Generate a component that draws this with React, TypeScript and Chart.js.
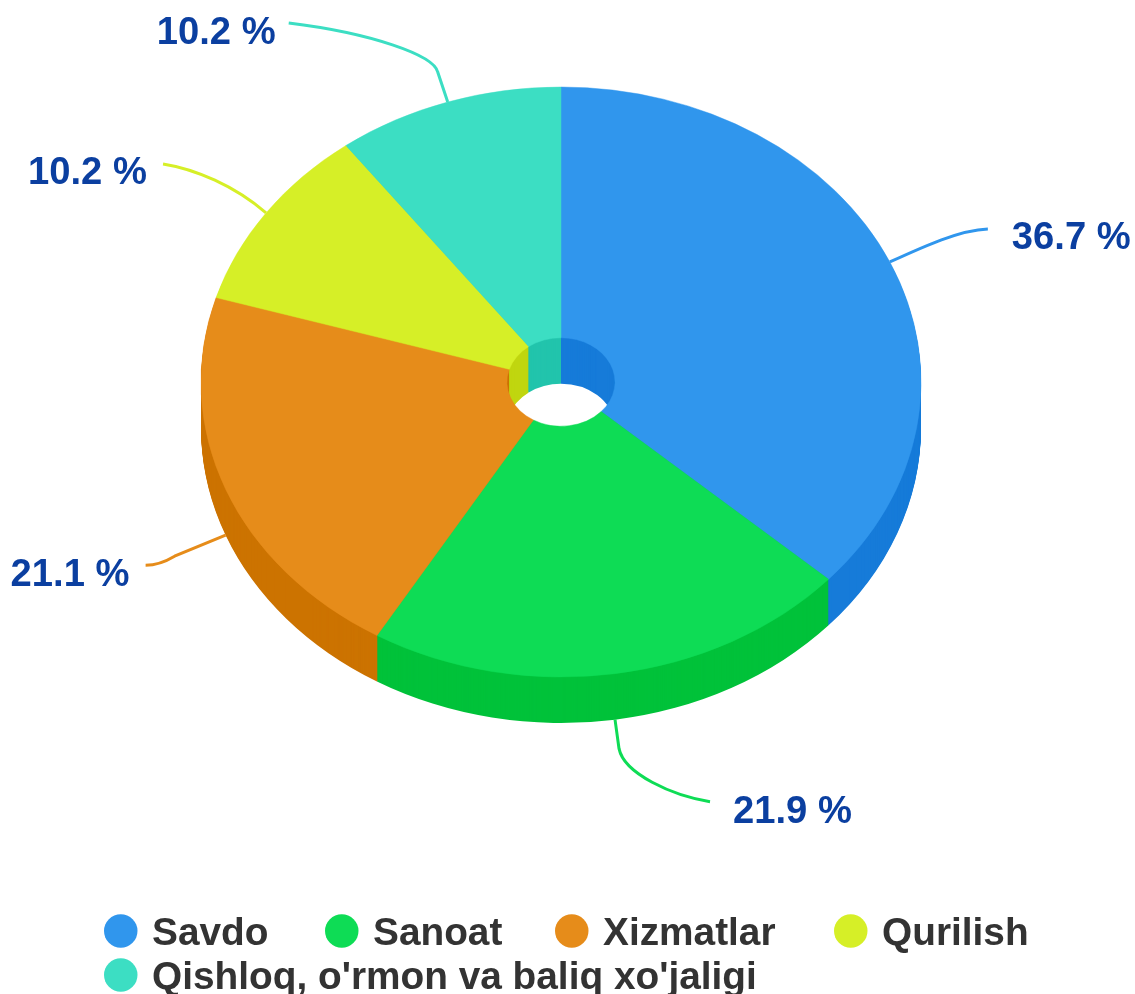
import React, { useEffect, useRef } from "react";
import { Chart, registerables } from "chart.js";

Chart.register(...registerables);

const categories = ["Savdo", "Sanoat", "Xizmatlar", "Qurilish", "Qishloq, o'rmon va baliq xo'jaligi"];
const shares = [36.7, 21.9, 21.1, 10.2, 10.2];
const valueLabels = ["36.7 %", "21.9 %", "21.1 %", "10.2 %", "10.2 %"];
const topColors = ["#3096ED", "#0EDC55", "#E68C1A", "#D6EF27", "#3CDEC3"];
const wallColors = ["#167BD9", "#00C23A", "#CC7300", "#C0D60F", "#22C4AC"];

// Presentation of the tilted pie
const CENTER_X = 561;
const CENTER_Y = 382;
const RADIUS = 360;
const TILT = 295 / 360;
const DEPTH = 46;
const FONT = '"Liberation Sans", Arial, sans-serif';

// Leader shapes, as offsets from each slice's rim anchor, and the label's offset
type Leader = { path: (a: { x: number; y: number }, c: CanvasRenderingContext2D) => void; labelDx: number; labelDy: number };
const leaders: Leader[] = [
  {
    path: (a, c) => c.bezierCurveTo(a.x + 35, a.y - 16, a.x + 70, a.y - 32, a.x + 98, a.y - 33),
    labelDx: 122,
    labelDy: -13,
  },
  {
    path: (a, c) => {
      c.lineTo(a.x + 4, a.y + 29);
      c.bezierCurveTo(a.x + 9, a.y + 54, a.x + 57, a.y + 76, a.x + 95, a.y + 82);
    },
    labelDx: 118,
    labelDy: 103,
  },
  {
    path: (a, c) => {
      c.lineTo(a.x - 51, a.y + 21);
      c.quadraticCurveTo(a.x - 66, a.y + 30, a.x - 80, a.y + 30);
    },
    labelDx: -215,
    labelDy: 51,
  },
  {
    path: (a, c) => c.bezierCurveTo(a.x - 31, a.y - 27, a.x - 71, a.y - 44, a.x - 103, a.y - 49),
    labelDx: -238,
    labelDy: -29,
  },
  {
    path: (a, c) => {
      c.lineTo(a.x - 10, a.y - 30);
      c.bezierCurveTo(a.x - 14, a.y - 47, a.x - 77, a.y - 69, a.x - 159, a.y - 79);
    },
    labelDx: -291,
    labelDy: -58,
  },
];

// Legend layout
const legendColumns = [104, 325, 555, 834, 104];
const legendRows = [0, 0, 0, 0, 1];

const tiltPlugin = {
  id: "tiltPie",
  beforeDatasetDraw(chart: any) {
    const ctx: CanvasRenderingContext2D = chart.ctx;
    const arcs = chart.getDatasetMeta(0).data;
    for (let d = DEPTH; d >= 1; d--) {
      ctx.save();
      ctx.translate(CENTER_X, CENTER_Y + d);
      ctx.scale(1, TILT);
      arcs.forEach((arc: any, i: number) => {
        ctx.beginPath();
        ctx.arc(0, 0, arc.outerRadius, arc.startAngle, arc.endAngle);
        ctx.arc(0, 0, arc.innerRadius, arc.endAngle, arc.startAngle, true);
        ctx.closePath();
        ctx.fillStyle = wallColors[i];
        ctx.fill();
      });
      ctx.restore();
    }
    const first = arcs[0];
    ctx.save();
    ctx.translate(CENTER_X, CENTER_Y);
    ctx.scale(1, TILT);
    ctx.translate(-first.x, -first.y);
  },
  afterDatasetDraw(chart: any) {
    chart.ctx.restore();
  },
  afterDraw(chart: any) {
    const ctx: CanvasRenderingContext2D = chart.ctx;
    const arcs = chart.getDatasetMeta(0).data;
    ctx.save();
    ctx.textBaseline = "alphabetic";
    ctx.textAlign = "left";
    ctx.font = `bold 38.2px ${FONT}`;
    arcs.forEach((arc: any, i: number) => {
      const mid = (arc.startAngle + arc.endAngle) / 2;
      const sy = Math.sin(mid);
      const anchor = {
        x: CENTER_X + arc.outerRadius * Math.cos(mid),
        y: CENTER_Y + arc.outerRadius * TILT * sy + (sy > 0 ? DEPTH : 0),
      };
      const leader = leaders[i];
      ctx.beginPath();
      ctx.moveTo(anchor.x, anchor.y);
      leader.path(anchor, ctx);
      ctx.strokeStyle = topColors[i];
      ctx.lineWidth = 3;
      ctx.stroke();
      ctx.fillStyle = "#0B3FA0";
      ctx.fillText(valueLabels[i], anchor.x + leader.labelDx, anchor.y + leader.labelDy);
    });

    ctx.font = `bold 38.8px ${FONT}`;
    chart.data.labels.forEach((label: string, i: number) => {
      const x = legendColumns[i];
      const cy = 931 + legendRows[i] * 44;
      ctx.beginPath();
      ctx.arc(x + 16.75, cy, 16.75, 0, Math.PI * 2);
      ctx.fillStyle = topColors[i];
      ctx.fill();
      ctx.fillStyle = "#333333";
      ctx.fillText(label, x + 48, cy + 14);
    });
    ctx.restore();
  },
};

export default function App() {
  const ref = useRef<HTMLCanvasElement>(null);
  useEffect(() => {
    document.body.style.margin = "0";
    document.documentElement.style.overflow = "hidden";
    const chart = new Chart(ref.current as HTMLCanvasElement, {
      type: "doughnut",
      data: {
        labels: categories,
        datasets: [
          {
            data: shares,
            backgroundColor: topColors,
            borderColor: topColors,
            borderWidth: 0.5,
            hoverOffset: 0,
          },
        ],
      },
      options: {
        responsive: false,
        animation: false,
        events: [],
        radius: RADIUS,
        cutout: "15%",
        layout: { padding: 0 },
        plugins: { legend: { display: false }, tooltip: { enabled: false }, title: { display: false } },
      } as any,
      plugins: [tiltPlugin as any],
    });
    return () => chart.destroy();
  }, []);
  return <canvas ref={ref} width={1135} height={994} style={{ display: "block" }} />;
}
